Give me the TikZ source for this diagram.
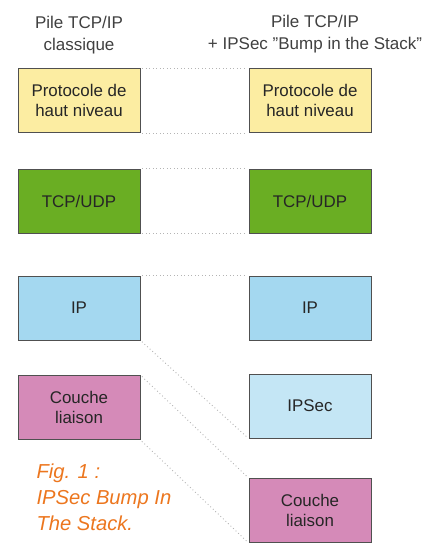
\documentclass[tikz,border=0pt]{standalone}
\usepackage{fontspec}
\setmainfont{Liberation Sans}
\definecolor{cyel}{RGB}{252,237,162}
\definecolor{cgreen}{RGB}{106,174,35}
\definecolor{cblue}{RGB}{164,216,240}
\definecolor{cblue2}{RGB}{196,230,245}
\definecolor{cpink}{RGB}{213,138,184}
\definecolor{corange}{RGB}{236,118,30}
\definecolor{cborder}{RGB}{80,80,80}
\definecolor{cdot}{RGB}{180,180,180}
\begin{document}
\begin{tikzpicture}[x=1pt,y=-1pt,
  layer/.style={draw=cborder,line width=0.9pt,minimum width=122pt,minimum height=64pt,inner sep=0pt,align=center,font=\fontsize{16.9}{20.5}\selectfont,text=black!85},
  title/.style={align=center,font=\fontsize{17}{22.5}\selectfont,text=black!75},
  link/.style={cdot,line width=0.9pt,dash pattern=on 0.9pt off 2.6pt,shorten <=2pt,shorten >=2pt}]
\useasboundingbox (0,0) rectangle (434,554);
\node[title] (tl) at (79,35) {Pile TCP/IP\\classique};
\node[title] (tr) at (315,34) {Pile TCP/IP\\+ IPSec \symbol{34}Bump in the Stack\symbol{34}};
\node[layer,fill=cyel] (L1) at (79,100.5) {Protocole de\\haut niveau};
\node[layer,fill=cgreen] (L2) at (79,201) {TCP/UDP};
\node[layer,fill=cblue] (L3) at (79,308) {IP};
\node[layer,fill=cpink] (L4) at (79,407.5) {Couche\\liaison};
\node[layer,fill=cyel] (R1) at (310,100.5) {Protocole de\\haut niveau};
\node[layer,fill=cgreen] (R2) at (310,201) {TCP/UDP};
\node[layer,fill=cblue] (R3) at (310,308) {IP};
\node[layer,fill=cblue2] (R4) at (310,406) {IPSec};
\node[layer,fill=cpink] (R5) at (310,510.5) {Couche\\liaison};
\draw[link] (L1.north east) -- (R1.north west);
\draw[link] (L1.south east) -- (R1.south west);
\draw[link] (L2.north east) -- (R2.north west);
\draw[link] (L2.south east) -- (R2.south west);
\draw[link] (L3.north east) -- (R3.north west);
\draw[link] (L3.south east) -- (R4.south west);
\draw[link] (L4.north east) -- (R5.north west);
\draw[link] (L4.south east) -- (R5.south west);
\node[anchor=west,align=left,text=corange,font=\fontsize{20.2}{26}\itshape] (cap) at (33,497) {Fig. 1 :\\IPSec Bump In\\The Stack.};
\end{tikzpicture}
\end{document}
